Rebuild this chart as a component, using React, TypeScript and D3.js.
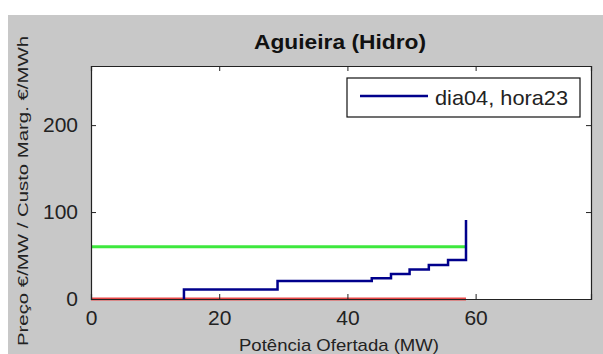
import React, { useRef, useEffect } from 'react';
import * as d3 from 'd3';

// offer curve (stepped), MW and price
const offerMW = [14.5, 29.1, 43.8, 46.8, 49.7, 52.7, 55.7, 58.5, 58.5];
const offerPrice = [0, 11, 20.7, 24, 28.7, 34, 39, 44.8, 91];
// marginal cost (green) and zero line (red)
const costMW = [0, 58.5];
const costValue = [60, 60];
const zeroMW = [0, 58.5];
const zeroValue = [0, 0];

const xTicks = [0, 20, 40, 60];
const yTicks = [0, 100, 200];
const legendLabel = 'dia04, hora23';

const App = () => {
  const svgRef = useRef<SVGSVGElement>(null);

  useEffect(() => {
    document.body.style.margin = '0';
    const svg = d3.select(svgRef.current);
    svg.selectAll('*').remove();

    const width = 603;
    const height = 354;
    const box = { left: 91, right: 591, top: 66, bottom: 299 };
    const font = 'Liberation Sans, Arial, sans-serif';

    // gray figure background
    svg.append('rect')
      .attr('x', 8).attr('y', 15)
      .attr('width', width - 8).attr('height', height - 15)
      .style('fill', '#c8c8c8');

    const xScale = d3.scaleLinear().domain([0, 78]).range([box.left, box.right]);
    const yScale = d3.scaleLinear().domain([0, 268]).range([box.bottom, box.top]);

    svg.append('rect')
      .attr('x', box.left).attr('y', box.top)
      .attr('width', box.right - box.left).attr('height', box.bottom - box.top)
      .style('fill', '#fff');

    const line = d3.line<[number, number]>()
      .x(d => xScale(d[0]))
      .y(d => yScale(d[1]));

    svg.append('path')
      .datum(zeroMW.map((m, i) => [m, zeroValue[i]] as [number, number]))
      .attr('d', line)
      .style('fill', 'none').style('stroke', '#e84848').style('stroke-width', 3);

    svg.append('path')
      .datum(costMW.map((m, i) => [m, costValue[i]] as [number, number]))
      .attr('d', line)
      .style('fill', 'none').style('stroke', '#3ee83e').style('stroke-width', 3);

    svg.append('path')
      .datum(offerMW.map((m, i) => [m, offerPrice[i]] as [number, number]))
      .attr('d', line.curve(d3.curveStepBefore))
      .style('fill', 'none').style('stroke', '#00008c').style('stroke-width', 2.5);

    // axes, ticks pointing inward, box on
    const tickLen = 5;
    const axisColor = '#222';
    svg.append('g')
      .attr('transform', `translate(0,${box.bottom})`)
      .call(d3.axisBottom(xScale).tickValues(xTicks).tickSize(-tickLen).tickPadding(11));
    svg.append('g')
      .attr('transform', `translate(0,${box.top})`)
      .call(d3.axisTop(xScale).tickValues(xTicks).tickSize(-tickLen).tickFormat(() => ''));
    svg.append('g')
      .attr('transform', `translate(${box.left},0)`)
      .call(d3.axisLeft(yScale).tickValues(yTicks).tickSize(-tickLen).tickPadding(13));
    svg.append('g')
      .attr('transform', `translate(${box.right},0)`)
      .call(d3.axisRight(yScale).tickValues(yTicks).tickSize(-tickLen).tickFormat(() => ''));

    svg.selectAll('.domain').style('stroke', axisColor).style('stroke-width', 1.2);
    svg.selectAll('.tick line').style('stroke', axisColor);
    svg.selectAll('.tick text')
      .style('fill', '#222').style('font-size', '21px').style('font-family', font);

    // title
    svg.append('text')
      .attr('x', 340).attr('y', 49)
      .attr('text-anchor', 'middle')
      .attr('textLength', 172).attr('lengthAdjust', 'spacingAndGlyphs')
      .style('font-family', font).style('font-weight', 'bold').style('font-size', '21px')
      .style('fill', '#111')
      .text('Aguieira (Hidro)');

    // x label
    svg.append('text')
      .attr('x', 339).attr('y', 351)
      .attr('text-anchor', 'middle')
      .attr('textLength', 200).attr('lengthAdjust', 'spacingAndGlyphs')
      .style('font-family', font).style('font-size', '17px').style('fill', '#222')
      .text('Potência Ofertada (MW)');

    // y label
    svg.append('text')
      .attr('transform', 'translate(28,191) rotate(-90)')
      .attr('text-anchor', 'middle')
      .attr('textLength', 310).attr('lengthAdjust', 'spacingAndGlyphs')
      .style('font-family', font).style('font-size', '15px').style('fill', '#222')
      .text('Preço €/MW / Custo Marg. €/MWh');

    // legend
    const legend = svg.append('g');
    legend.append('rect')
      .attr('x', 347).attr('y', 78).attr('width', 233).attr('height', 39)
      .style('fill', '#fff').style('stroke', '#111').style('stroke-width', 1.2);
    legend.append('line')
      .attr('x1', 360).attr('x2', 428).attr('y1', 96).attr('y2', 96)
      .style('stroke', '#00008c').style('stroke-width', 2.5);
    legend.append('text')
      .attr('x', 435).attr('y', 105)
      .attr('textLength', 133).attr('lengthAdjust', 'spacingAndGlyphs')
      .style('font-family', font).style('font-size', '21px').style('fill', '#222')
      .text(legendLabel);
  }, []);

  return <svg ref={svgRef} width={603} height={354} style={{ display: 'block', background: '#fff' }} />;
};

export default App;
